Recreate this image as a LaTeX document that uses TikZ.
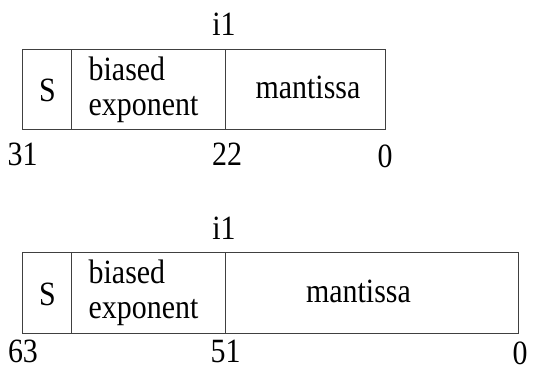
\documentclass[tikz,border=0pt]{standalone}
\usepackage{fontspec}
\usepackage{graphicx}
\setmainfont{Liberation Serif}
\newcommand{\sqzt}[1]{\scalebox{0.88}[1]{#1}}
\begin{document}
\begin{tikzpicture}[x=1pt,y=-1pt,
  lbl/.style={font=\fontsize{34}{35}\selectfont, inner sep=0pt, anchor=base},
  lblw/.style={lbl, anchor=base west},
  field/.style={draw=black!75, line width=0.9pt}]
\useasboundingbox (0,0) rectangle (533,372);
% top format (32 bit)
\coordinate (t1) at (22.5,49);
\coordinate (t2) at (385,129.5);
\draw[field] (t1) rectangle (t2);
\coordinate (ta) at (71,49);
\coordinate (tb) at (71,129.5);
\coordinate (tc) at (225,49);
\coordinate (td) at (225,129.5);
\draw[field] (ta) -- (tb);
\draw[field] (tc) -- (td);
\node[lbl] (ti1) at (224,35) {\sqzt{i1}};
\node[lbl] (tS) at (47.5,101) {\sqzt{S}};
\node[lblw] (tbia) at (88.5,80) {\sqzt{biased}};
\node[lblw] (texp) at (88.5,115) {\sqzt{exponent}};
\node[lbl] (tman) at (308,98.5) {\sqzt{mantissa}};
\node[lbl] (t31) at (22.5,165.5) {\sqzt{31}};
\node[lbl] (t22) at (227,165.5) {\sqzt{22}};
\node[lbl] (t0) at (385,167) {\sqzt{0}};
% bottom format (64 bit)
\coordinate (b1) at (22.5,252.5);
\coordinate (b2) at (518.3,333.5);
\draw[field] (b1) rectangle (b2);
\coordinate (ba) at (71,252.5);
\coordinate (bb) at (71,333.5);
\coordinate (bc) at (225,252.5);
\coordinate (bd) at (225,333.5);
\draw[field] (ba) -- (bb);
\draw[field] (bc) -- (bd);
\node[lbl] (bi1) at (224,239) {\sqzt{i1}};
\node[lbl] (bS) at (47.5,305) {\sqzt{S}};
\node[lblw] (bbia) at (88.5,283.5) {\sqzt{biased}};
\node[lblw] (bexp) at (88.5,318.5) {\sqzt{exponent}};
\node[lbl] (bman) at (358.5,302) {\sqzt{mantissa}};
\node[lbl] (b63) at (23,362) {\sqzt{63}};
\node[lbl] (b51) at (225.5,362) {\sqzt{51}};
\node[lbl] (b0) at (520,364.5) {\sqzt{0}};
\end{tikzpicture}
\end{document}
